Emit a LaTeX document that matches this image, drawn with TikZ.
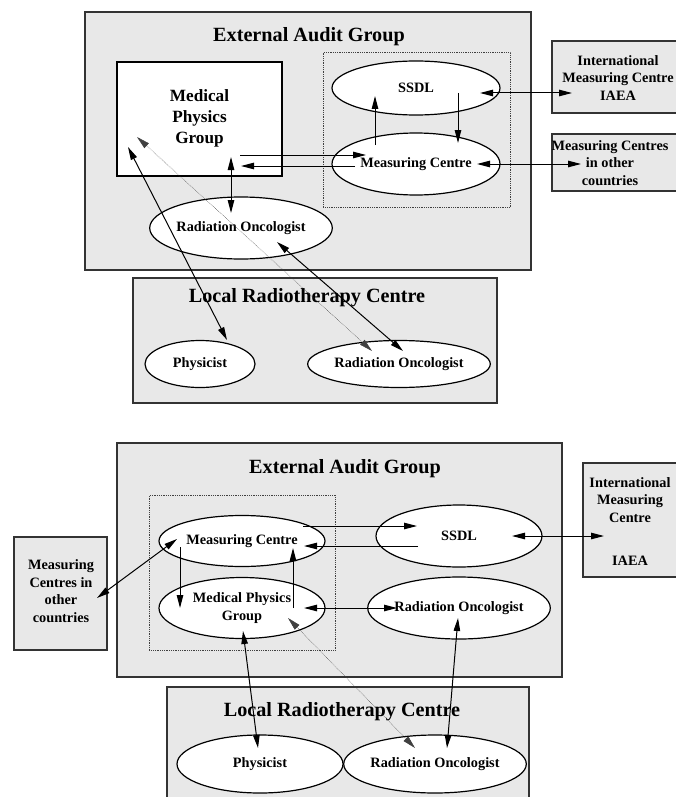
\documentclass[tikz,border=0pt]{standalone}
\usepackage{fontspec}
\setmainfont{Liberation Serif}
\usetikzlibrary{shapes.geometric,arrows.meta}
\newcommand\elltxt{\fontsize{14.3}{17.5}\selectfont\bfseries}
\newcommand\bigtxt{\fontsize{17.2}{21}\selectfont\bfseries}
\newcommand\ttltxt{\fontsize{20.2}{24}\selectfont\bfseries}
\begin{document}
\begin{tikzpicture}[x=1pt,y=-1pt,
  panel/.style={draw=black!80, line width=1.3pt, fill=black!9, inner sep=0pt, outer sep=0pt, anchor=north west},
  whitebox/.style={draw=black, line width=1.2pt, fill=white, inner sep=0pt, outer sep=0pt, anchor=north west, align=center, font=\bigtxt},
  dotbox/.style={draw=black!75, densely dotted, line width=0.8pt, inner sep=0pt, anchor=north west},
  ell/.style={ellipse, draw=black, line width=1.2pt, fill=white, inner sep=0pt, align=center, font=\elltxt},
  lbl/.style={align=center, font=\elltxt, inner sep=0pt},
  ttl/.style={font=\ttltxt, inner sep=0pt},
  arr/.style={line width=1pt, -{Triangle[length=13pt,width=6.5pt]}},
  dbl/.style={line width=1pt, {Triangle[length=13pt,width=6.5pt]}-{Triangle[length=13pt,width=6.5pt]}},
  dotarr/.style={line width=0.5pt, black!75, densely dotted, {Triangle[length=13pt,width=6.5pt]}-{Triangle[length=13pt,width=6.5pt]}}
]
\useasboundingbox (0,0) rectangle (675,797);

% ===================== TOP DIAGRAM =====================
\node[panel, minimum width=446pt, minimum height=258pt] (eag1) at (85,12) {};
\node[ttl] (title1) at (309,37) {External Audit Group};
\node[whitebox, minimum width=165pt, minimum height=114pt] (mpgbox) at (117,62) {};
\node[align=center, font=\bigtxt, inner sep=0pt] (mpgtxt) at (199.5,118) {Medical\\Physics\\Group};
\node[dotbox, minimum width=187pt, minimum height=155pt] (dot1) at (323,52) {};
\node[ell, minimum width=168pt, minimum height=54pt] (ssdl1) at (416,88) {SSDL};
\node[ell, minimum width=168pt, minimum height=62pt] (mc1) at (416,164) {Measuring Centre};
\node[ell, minimum width=166pt, minimum height=62pt] (ro1) at (241,228) {Radiation Oncologist};

\node[panel, minimum width=148pt, minimum height=72pt] (iaea1) at (552,41) {};
\node[lbl] (iaea1t) at (618,78) {International\\Measuring Centre\\IAEA};
\node[panel, minimum width=148pt, minimum height=57pt] (oth1) at (552,134) {};
\node[lbl] (oth1t) at (610,163) {Measuring Centres\\in other\\countries};

\node[panel, minimum width=364pt, minimum height=125pt] (loc1) at (133,278) {};
\node[ttl] (title2) at (307,298) {Local Radiotherapy Centre};
\node[ell, minimum width=110pt, minimum height=47pt] (phys1) at (200,364) {Physicist};
\node[ell, minimum width=156pt, minimum height=47pt] (lro1) at (399,364) {Radiation Oncologist};

% connector end points
\coordinate (a1s) at (480,93);  \coordinate (a1e) at (572,93);
\coordinate (a2s) at (477,164); \coordinate (a2e) at (581,164);
\coordinate (a3s) at (375,145); \coordinate (a3e) at (375,96);
\coordinate (a4s) at (458,93);  \coordinate (a4e) at (458,143);
\coordinate (a5s) at (240,155); \coordinate (a5e) at (366,155);
\coordinate (a6s) at (355,166); \coordinate (a6e) at (241,166);
\coordinate (a7s) at (231,157); \coordinate (a7e) at (231,213);
\coordinate (a8s) at (128,147); \coordinate (a8e) at (227,340);
\coordinate (a9s) at (137,137); \coordinate (a9e) at (372,351);
\coordinate (a10s) at (277,242); \coordinate (a10e) at (403,351);

\draw[dbl] (a1s) -- (a1e);
\draw[dbl] (a2s) -- (a2e);
\draw[arr] (a3s) -- (a3e);
\draw[arr] (a4s) -- (a4e);
\draw[arr] (a5s) -- (a5e);
\draw[arr] (a6s) -- (a6e);
\draw[dbl] (a7s) -- (a7e);
\draw[dbl] (a8s) -- (a8e);
\draw[dotarr] (a9s) -- (a9e);
\draw[dbl] (a10s) -- (a10e);

% ===================== BOTTOM DIAGRAM =====================
\node[panel, minimum width=445pt, minimum height=234pt] (eag2) at (117,443) {};
\node[ttl] (title3) at (345,469) {External Audit Group};
\node[dotbox, minimum width=186pt, minimum height=155pt] (dot2) at (149,495) {};
\node[ell, minimum width=166pt, minimum height=51pt] (mc2) at (242,541) {Measuring Centre};
\node[ell, minimum width=166pt, minimum height=61pt] (mpg2) at (242,608) {Medical Physics\\Group};
\node[ell, minimum width=166pt, minimum height=62pt] (ssdl2) at (459,536) {SSDL};
\node[ell, minimum width=166pt, minimum height=62pt] (ro2) at (459,608) {Radiation Oncologist};

\node[panel, minimum width=117pt, minimum height=114pt] (iaea2) at (583,463) {};
\node[lbl] (iaea2t) at (630,500) {International\\Measuring\\Centre};
\node[lbl] (iaea2b) at (630,561) {IAEA};
\node[panel, minimum width=93pt, minimum height=113pt] (oth2) at (14,537) {};
\node[lbl] (oth2t) at (61,591) {Measuring\\Centres in\\other\\countries};

\node[panel, minimum width=362pt, minimum height=130pt] (loc2) at (167,687) {};
\node[ttl] (title4) at (342,712) {Local Radiotherapy Centre};
\node[ell, minimum width=166pt, minimum height=58pt] (phys2) at (260,764) {Physicist};
\node[ell, minimum width=166pt, minimum height=58pt] (lro2) at (435,764) {Radiation Oncologist};

\coordinate (b1s) at (303,526); \coordinate (b1e) at (417,526);
\coordinate (b2s) at (418,546); \coordinate (b2e) at (304,546);
\coordinate (b3s) at (512,536); \coordinate (b3e) at (604,536);
\coordinate (b4s) at (177,539); \coordinate (b4e) at (97,598);
\coordinate (b5s) at (180,547); \coordinate (b5e) at (180,608);
\coordinate (b6s) at (293,608); \coordinate (b6e) at (293,548);
\coordinate (b7s) at (304,608); \coordinate (b7e) at (397,608);
\coordinate (b8s) at (243,631); \coordinate (b8e) at (258,748);
\coordinate (b9s) at (288,618); \coordinate (b9e) at (415,748);
\coordinate (b10s) at (458,618); \coordinate (b10e) at (447,748);

\draw[arr] (b1s) -- (b1e);
\draw[arr] (b2s) -- (b2e);
\draw[dbl] (b3s) -- (b3e);
\draw[dbl] (b4s) -- (b4e);
\draw[arr] (b5s) -- (b5e);
\draw[arr] (b6s) -- (b6e);
\draw[dbl] (b7s) -- (b7e);
\draw[dbl] (b8s) -- (b8e);
\draw[dotarr] (b9s) -- (b9e);
\draw[dbl] (b10s) -- (b10e);
\end{tikzpicture}
\end{document}
